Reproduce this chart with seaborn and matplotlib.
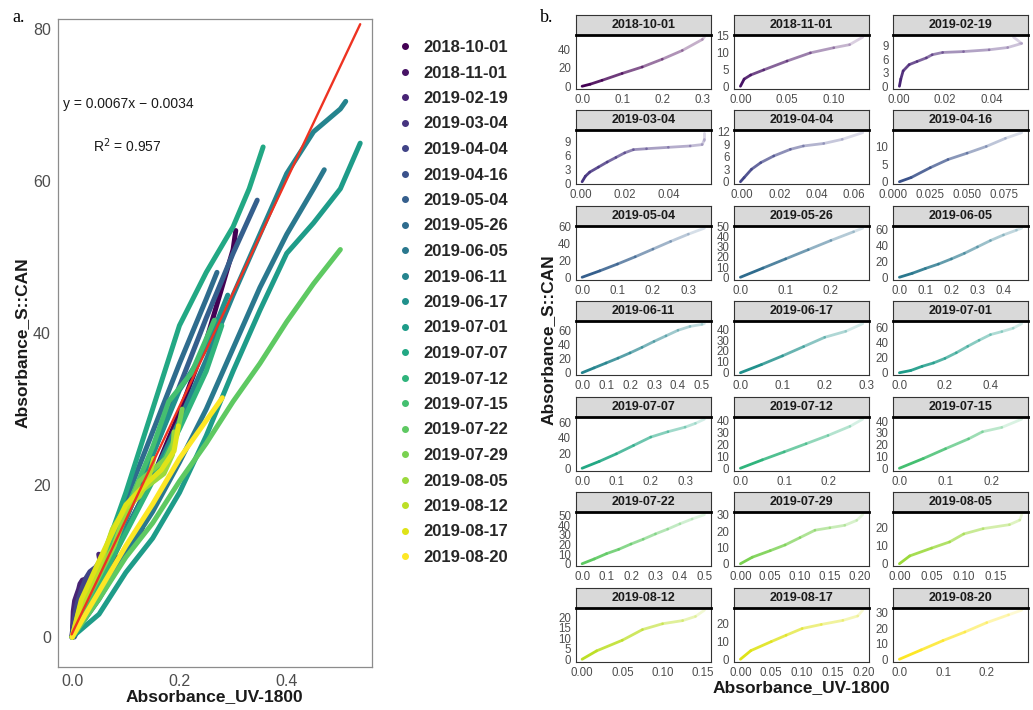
import matplotlib
matplotlib.use("Agg")
import numpy as np
import pandas as pd
import matplotlib.pyplot as plt
import matplotlib.colors as mcolors
import seaborn as sns
from matplotlib.collections import LineCollection
from matplotlib.lines import Line2D

# ---- sampling dates ----
dates = ["2018-10-01", "2018-11-01", "2019-02-19", "2019-03-04", "2019-04-04",
         "2019-04-16", "2019-05-04", "2019-05-26", "2019-06-05", "2019-06-11",
         "2019-06-17", "2019-07-01", "2019-07-07", "2019-07-12", "2019-07-15",
         "2019-07-22", "2019-07-29", "2019-08-05", "2019-08-12", "2019-08-17",
         "2019-08-20"]

# ---- absorbance pairs per date (UV-1800, S::CAN) ----
uv_181001 = [0.0, 0.02, 0.05, 0.1, 0.15, 0.2, 0.25, 0.3, 0.305]
can_181001 = [0.0, 2.2, 6.5, 14.0, 21.0, 29.5, 39.0, 51.0, 53.5]
uv_181101 = [0.0, 0.004, 0.011, 0.025, 0.05, 0.075, 0.1, 0.117, 0.131]
can_181101 = [0.0, 2.1, 3.3, 4.8, 7.4, 9.8, 11.3, 12.2, 14.4]
uv_190219 = [0.0004, 0.001, 0.002, 0.0046, 0.008, 0.012, 0.0145, 0.019, 0.028, 0.039, 0.047, 0.053, 0.0495]
can_190219 = [0.0, 1.6, 3.4, 4.8, 5.5, 6.3, 7.0, 7.5, 7.7, 8.1, 8.6, 9.5, 10.9]
uv_190304 = [0.0005, 0.002, 0.004, 0.008, 0.012, 0.016, 0.02, 0.024, 0.03, 0.04, 0.05, 0.0555, 0.0565, 0.0565]
can_190304 = [0.3, 1.5, 2.4, 3.5, 4.6, 5.6, 6.6, 7.3, 7.5, 7.8, 8.1, 8.4, 9.5, 11.0]
uv_190404 = [-0.001, 0.001, 0.005, 0.01, 0.017, 0.026, 0.033, 0.044, 0.054, 0.065]
can_190404 = [0.0, 1.0, 3.0, 4.6, 6.2, 7.8, 8.6, 9.2, 10.2, 11.8]
uv_190416 = [0.004, 0.012, 0.025, 0.037, 0.05, 0.063, 0.076, 0.087]
can_190416 = [0.0, 1.2, 4.0, 6.3, 8.1, 10.0, 12.3, 13.9]
uv_190504 = [0.0, 0.05, 0.1, 0.15, 0.2, 0.25, 0.3, 0.345]
can_190504 = [0.0, 7.5, 15.5, 24.0, 33.0, 42.0, 50.5, 57.5]
uv_190526 = [0.0, 0.05, 0.1, 0.15, 0.2, 0.25, 0.27]
can_190526 = [0.0, 9.0, 18.0, 27.0, 36.0, 44.5, 48.0]
uv_190605 = [0.0, 0.05, 0.1, 0.15, 0.2, 0.25, 0.3, 0.35, 0.4, 0.45, 0.47]
can_190605 = [0.0, 5.0, 11.0, 16.5, 23.0, 30.0, 38.0, 46.0, 53.0, 59.0, 61.5]
uv_190611 = [0.0, 0.05, 0.1, 0.15, 0.2, 0.25, 0.3, 0.35, 0.4, 0.45, 0.5, 0.51]
can_190611 = [0.0, 7.0, 14.0, 21.0, 28.5, 36.5, 45.0, 53.0, 61.0, 66.5, 69.5, 70.5]
uv_190617 = [0.0, 0.05, 0.1, 0.15, 0.2, 0.25, 0.29]
can_190617 = [0.0, 7.5, 15.5, 24.0, 32.5, 38.0, 45.0]
uv_190701 = [0.0, 0.05, 0.1, 0.15, 0.2, 0.25, 0.3, 0.35, 0.4, 0.45, 0.5, 0.537]
can_190701 = [0.0, 3.0, 8.5, 13.0, 19.0, 26.5, 35.0, 43.0, 50.5, 54.5, 59.0, 65.0]
uv_190707 = [0.0, 0.05, 0.1, 0.15, 0.2, 0.25, 0.3, 0.33, 0.356]
can_190707 = [0.0, 9.0, 19.0, 30.0, 41.0, 48.0, 54.0, 59.0, 64.5]
uv_190712 = [0.0, 0.05, 0.1, 0.15, 0.2, 0.25, 0.279]
can_190712 = [0.0, 7.0, 13.7, 20.5, 27.4, 35.0, 41.0]
uv_190715 = [0.0, 0.052, 0.1, 0.15, 0.18, 0.222, 0.265]
can_190715 = [0.0, 8.3, 16.6, 25.0, 31.0, 34.7, 41.7]
uv_190722 = [0.0, 0.05, 0.1, 0.15, 0.2, 0.25, 0.3, 0.35, 0.4, 0.45, 0.5]
can_190722 = [0.0, 5.0, 10.5, 15.0, 20.5, 25.5, 31.0, 36.0, 41.5, 46.5, 51.0]
uv_190729 = [0.0, 0.02, 0.05, 0.075, 0.1, 0.125, 0.15, 0.175, 0.195, 0.205]
can_190729 = [0.0, 4.0, 8.0, 11.5, 16.0, 20.5, 22.0, 23.5, 26.5, 30.0]
uv_190805 = [0.0, 0.016, 0.05, 0.078, 0.1, 0.13, 0.171, 0.187, 0.19]
can_190805 = [0.0, 4.3, 8.6, 12.0, 16.4, 19.3, 21.5, 24.0, 27.0]
uv_190812 = [0.0, 0.018, 0.05, 0.075, 0.1, 0.125, 0.141, 0.152]
can_190812 = [0.0, 4.0, 9.1, 14.2, 17.0, 18.5, 20.5, 23.5]
uv_190817 = [0.0, 0.017, 0.05, 0.074, 0.1, 0.131, 0.166, 0.19, 0.198]
can_190817 = [0.0, 4.9, 10.0, 13.6, 17.4, 19.7, 22.0, 24.5, 27.8]
uv_190820 = [0.0, 0.05, 0.1, 0.15, 0.2, 0.25, 0.28]
can_190820 = [0.0, 6.0, 12.0, 17.5, 23.5, 28.5, 31.5]

# ---- facet tick labels ----
xt_181001 = ["0.0", "0.1", "0.2", "0.3"];            yt_181001 = [0, 20, 40]
xt_181101 = ["0.00", "0.05", "0.10"];                yt_181101 = [0, 5, 10, 15]
xt_190219 = ["0.00", "0.02", "0.04"];                yt_190219 = [0, 3, 6, 9]
xt_190304 = ["0.00", "0.02", "0.04"];                yt_190304 = [0, 3, 6, 9]
xt_190404 = ["0.00", "0.02", "0.04", "0.06"];        yt_190404 = [0, 3, 6, 9, 12]
xt_190416 = ["0.000", "0.025", "0.050", "0.075"];    yt_190416 = [0, 5, 10]
xt_190504 = ["0.0", "0.1", "0.2", "0.3"];            yt_190504 = [0, 20, 40, 60]
xt_190526 = ["0.0", "0.1", "0.2"];                   yt_190526 = [0, 10, 20, 30, 40, 50]
xt_190605 = ["0.0", "0.1", "0.2", "0.3", "0.4"];     yt_190605 = [0, 20, 40, 60]
xt_190611 = ["0.0", "0.1", "0.2", "0.3", "0.4", "0.5"]; yt_190611 = [0, 20, 40, 60]
xt_190617 = ["0.0", "0.1", "0.2", "0.3"];            yt_190617 = [0, 10, 20, 30, 40]
xt_190701 = ["0.0", "0.2", "0.4"];                   yt_190701 = [0, 20, 40, 60]
xt_190707 = ["0.0", "0.1", "0.2", "0.3"];            yt_190707 = [0, 20, 40, 60]
xt_190712 = ["0.0", "0.1", "0.2"];                   yt_190712 = [0, 10, 20, 30, 40]
xt_190715 = ["0.0", "0.1", "0.2"];                   yt_190715 = [0, 10, 20, 30, 40]
xt_190722 = ["0.0", "0.1", "0.2", "0.3", "0.4", "0.5"]; yt_190722 = [0, 10, 20, 30, 40, 50]
xt_190729 = ["0.00", "0.05", "0.10", "0.15", "0.20"]; yt_190729 = [0, 10, 20, 30]
xt_190805 = ["0.00", "0.05", "0.10", "0.15", "0.20"]; yt_190805 = [0, 10, 20]
xt_190812 = ["0.00", "0.05", "0.10", "0.15"];        yt_190812 = [0, 5, 10, 15, 20]
xt_190817 = ["0.00", "0.05", "0.10", "0.15", "0.20"]; yt_190817 = [0, 10, 20]
xt_190820 = ["0.0", "0.1", "0.2"];                   yt_190820 = [0, 10, 20, 30]

# ---- fitted relation: UV = slope * SCAN + intercept ----
fit_slope = 0.0067
fit_intercept = -0.0034
fit_r2 = 0.957

uv_all = [uv_181001, uv_181101, uv_190219, uv_190304, uv_190404, uv_190416,
          uv_190504, uv_190526, uv_190605, uv_190611, uv_190617, uv_190701,
          uv_190707, uv_190712, uv_190715, uv_190722, uv_190729, uv_190805,
          uv_190812, uv_190817, uv_190820]
can_all = [can_181001, can_181101, can_190219, can_190304, can_190404, can_190416,
           can_190504, can_190526, can_190605, can_190611, can_190617, can_190701,
           can_190707, can_190712, can_190715, can_190722, can_190729, can_190805,
           can_190812, can_190817, can_190820]
xt_all = [xt_181001, xt_181101, xt_190219, xt_190304, xt_190404, xt_190416,
          xt_190504, xt_190526, xt_190605, xt_190611, xt_190617, xt_190701,
          xt_190707, xt_190712, xt_190715, xt_190722, xt_190729, xt_190805,
          xt_190812, xt_190817, xt_190820]
yt_all = [yt_181001, yt_181101, yt_190219, yt_190304, yt_190404, yt_190416,
          yt_190504, yt_190526, yt_190605, yt_190611, yt_190617, yt_190701,
          yt_190707, yt_190712, yt_190715, yt_190722, yt_190729, yt_190805,
          yt_190812, yt_190817, yt_190820]

df = pd.concat(
    [pd.DataFrame({"date": d, "uv": u, "can": c}) for d, u, c in zip(dates, uv_all, can_all)],
    ignore_index=True)

sns.set_style("white")
plt.rcParams["font.family"] = ["Liberation Sans", "DejaVu Sans"]

W, H = 1033, 710
fig = plt.figure(figsize=(W / 100, H / 100), dpi=100)


def box(left, top, right, bottom):
    return [left / W, 1 - bottom / H, (right - left) / W, (bottom - top) / H]


cmap = plt.get_cmap("viridis")
palette = [mcolors.to_hex(cmap(i / (len(dates) - 1))) for i in range(len(dates))]

TXT = "#4D4D4D"
DARK = "#1A1A1A"

# ================= panel a: all dates together =================
ax = fig.add_axes(box(57.7, 19.3, 372, 666.7))
sns.lineplot(data=df, x="uv", y="can", hue="date", hue_order=dates, palette=palette,
             sort=False, estimator=None, linewidth=3.6, legend=False, ax=ax,
             solid_capstyle="round", solid_joinstyle="round")

fit_x = np.array([df["uv"].min(), df["uv"].max()])
fit_y = (fit_x - fit_intercept) / fit_slope
ax.plot(fit_x, fit_y, color="#EE3322", linewidth=1.7, zorder=5)

ax.set_xlim(-0.027, 0.559)
ax.set_ylim(-3.9, 81.3)
ax.set_xticks([0.0, 0.2, 0.4])
ax.set_xticklabels(["0.0", "0.2", "0.4"])
ax.set_yticks([0, 20, 40, 60, 80])
ax.set_xlabel("")
ax.set_ylabel("")
ax.tick_params(axis="both", direction="out", length=3, width=0.8, color="#7F7F7F",
               labelsize=11.5, labelcolor=TXT, pad=2)
for s in ax.spines.values():
    s.set_color("#8C8C8C")
    s.set_linewidth(0.9)

ax.text(-0.018, 70.1, "y = %.4fx \u2212 %.4f" % (fit_slope, -fit_intercept),
        fontsize=10, color=DARK, ha="left", va="center")
ax.text(0.0386, 64.6, r"R$^2$ = %.3f" % fit_r2, fontsize=10, color=DARK,
        ha="left", va="center")

fig.text(214.5 / W, 1 - 697 / H, "Absorbance_UV-1800", fontsize=12.5, fontweight="bold",
         color=DARK, ha="center", va="center")
fig.text(22 / W, 1 - 343 / H, "Absorbance_S::CAN", fontsize=12.5, fontweight="bold",
         color=DARK, ha="center", va="center", rotation=90)

handles = [Line2D([], [], marker="o", linestyle="", markersize=4, color=c) for c in palette]
fig.legend(handles, dates, loc="upper left", bbox_to_anchor=(397 / W, 1 - 40 / H),
           frameon=False, prop={"weight": "bold", "size": 12}, handlelength=1.0,
           handletextpad=0.6, labelspacing=0.63, borderpad=0, borderaxespad=0)

fig.text(12 / W, 1 - 18 / H, "a.", fontsize=13, family=["Liberation Serif"], color="black",
         ha="left", va="center")
fig.text(540 / W, 1 - 18 / H, "b.", fontsize=13, family=["Liberation Serif"], color="black",
         ha="left", va="center")

# ================= panel b: one facet per date =================
col_left = [576, 734.3, 893.3]
panel_w = 134.5
strip_h = 20
panel_h = 54

for i, (d, u, c, xt, yt) in enumerate(zip(dates, uv_all, can_all, xt_all, yt_all)):
    r, k = divmod(i, 3)
    left = col_left[k]
    top = 14.7 + 95.5 * r
    axp = fig.add_axes(box(left, top + strip_h, left + panel_w, top + strip_h + panel_h))
    pts = np.column_stack([u, c])
    segs = np.stack([pts[:-1], pts[1:]], axis=1)
    alphas = np.linspace(1.0, 0.2, len(segs))
    rgb = mcolors.to_rgb(palette[i])
    lc = LineCollection(segs, colors=[(*rgb, a) for a in alphas], linewidths=2.0,
                        capstyle="round", joinstyle="round")
    axp.add_collection(lc)
    axp.margins(0.05)
    axp.autoscale_view()
    xl, yl = axp.get_xlim(), axp.get_ylim()
    axp.set_xticks([float(t) for t in xt])
    axp.set_xticklabels(xt)
    axp.set_yticks(yt)
    axp.set_xlim(xl)
    axp.set_ylim(yl)
    axp.tick_params(axis="both", direction="out", length=2.5, width=0.7, color="#333333",
                    labelsize=8.3, labelcolor=TXT, pad=1)
    for s in axp.spines.values():
        s.set_color("#333333")
        s.set_linewidth(0.8)

    axs = fig.add_axes(box(left, top, left + panel_w, top + strip_h))
    axs.set_facecolor("#D9D9D9")
    axs.set_xticks([])
    axs.set_yticks([])
    for s in axs.spines.values():
        s.set_color("#333333")
        s.set_linewidth(0.8)
    axs.spines["bottom"].set_color("black")
    axs.spines["bottom"].set_linewidth(2.0)
    axs.text(0.5, 0.5, d, transform=axs.transAxes, ha="center", va="center",
             fontsize=9, fontweight="bold", color=DARK)

fig.text(548 / W, 1 - 340 / H, "Absorbance_S::CAN", fontsize=12.5, fontweight="bold",
         color=DARK, ha="center", va="center", rotation=90)
fig.text(801 / W, 1 - 688 / H, "Absorbance_UV-1800", fontsize=12.5, fontweight="bold",
         color=DARK, ha="center", va="center")

fig.savefig("out.png", dpi=100)
